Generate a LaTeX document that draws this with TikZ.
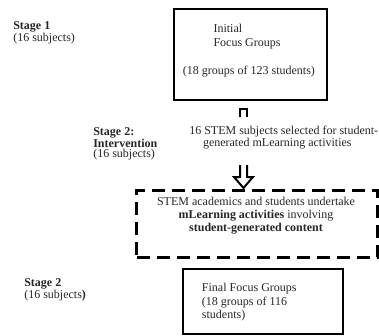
\documentclass[tikz,border=0pt]{standalone}
\usepackage{fontspec}
\setmainfont{Liberation Serif}
\begin{document}
\begin{tikzpicture}[x=0.75pt,y=-0.75pt,
  solidbox/.style={draw=black, line width=1.5pt, rectangle, inner sep=0pt},
  dashbox/.style={draw=black, line width=2.25pt, rectangle, inner sep=0pt, dash pattern=on 9.75pt off 5.25pt},
  lbl/.style={inner sep=0pt, anchor=base west, align=left, text=black!85, font=\fontsize{9}{7.8}\selectfont},
  txt/.style={inner sep=0pt, text=black!85},
  arrowline/.style={draw=black, line width=1.5pt, line join=miter}
]
\useasboundingbox (0,0) rectangle (379,336);

% boxes
\node[solidbox, minimum width=114.75pt, minimum height=68.25pt] (box1) at (250.5,54.8) {};
\node[dashbox, minimum width=180.4pt, minimum height=50.25pt] (box2) at (257.25,223.5) {};
\node[solidbox, minimum width=120pt, minimum height=48.75pt] (box3) at (263,301.5) {};

% stage labels (anchored at the baseline of their last line)
\node[lbl] (st1) at (13,41.4) {\textbf{Stage 1}\\(16 subjects)};
\node[lbl] (st2) at (93,157.8) {\textbf{Stage 2:}\\\textbf{Intervention}\\(16 subjects)};
\node[lbl] (st3) at (24,298.4) {\textbf{Stage 2}\\(16 subjects\textbf{)}};

% box 1 text
\node[txt, anchor=base west, align=left, font=\fontsize{9}{10.8}\selectfont] (init) at (213.3,46.7) {Initial\\Focus Groups};
\node[txt, anchor=base west, font=\fontsize{9}{10.8}\selectfont] (grp1) at (182.7,74) {(18 groups of 123 students)};

% selection text
\node[txt, anchor=base west, align=left, font=\fontsize{9}{9}\selectfont] (sel) at (189,146)
  {16 STEM subjects selected for student-\\\hspace*{10.3pt}generated mLearning activities};

% dashed box text
\node[txt, anchor=base, align=center, font=\fontsize{9}{9.75}\selectfont] (act) at (256,231.7)
  {STEM academics and students undertake\\\textbf{mLearning activities} involving\\\textbf{student-generated content}};

% box 3 text
\node[txt, anchor=base west, align=left, font=\fontsize{9}{10.2}\selectfont] (fin) at (201.7,318.9)
  {Final Focus Groups\\(18 groups of 116\\students)};

% hollow block arrow (partly hidden behind the selection text)
\coordinate (atop) at (243.5,109);
\coordinate (atip) at (243.5,188);
\draw[arrowline] (atop) ++(-3.5,8) -- ++(0,-8) -- ++(7,0) -- ++(0,8);
\draw[arrowline] (atip) ++(-3.5,-23) -- ++(0,12) -- ++(-6,0) -- (atip) -- ++(9.5,-11) -- ++(-6,0) -- ++(0,-12);
\end{tikzpicture}
\end{document}
